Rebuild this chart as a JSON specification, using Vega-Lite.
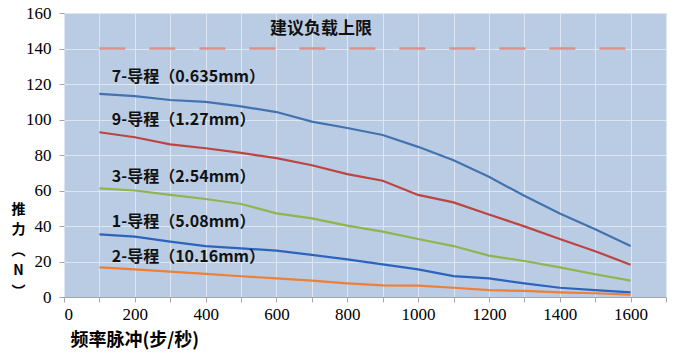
{
  "$schema": "https://vega.github.io/schema/vega-lite/v6.json",
  "width": 602,
  "height": 284,
  "autosize": {"type": "none"},
  "padding": {"left": 64, "top": 13, "right": 34, "bottom": 64},
  "background": "#ffffff",
  "config": {
    "view": {"fill": "#b9cce4", "stroke": null},
    "axis": {"gridColor": "#dde7f3", "gridWidth": 1}
  },
  "datasets": {
    "curves": [
      {"f": 100, "n": 114.4, "s": "7"}, {"f": 200, "n": 113.2, "s": "7"}, {"f": 300, "n": 111.0, "s": "7"}, {"f": 400, "n": 109.9, "s": "7"},
      {"f": 500, "n": 107.4, "s": "7"}, {"f": 600, "n": 104.2, "s": "7"}, {"f": 700, "n": 98.8, "s": "7"}, {"f": 800, "n": 95.2, "s": "7"},
      {"f": 900, "n": 91.3, "s": "7"}, {"f": 1000, "n": 84.6, "s": "7"}, {"f": 1100, "n": 77.1, "s": "7"}, {"f": 1200, "n": 67.7, "s": "7"},
      {"f": 1300, "n": 57.0, "s": "7"}, {"f": 1400, "n": 47.0, "s": "7"}, {"f": 1500, "n": 38.2, "s": "7"}, {"f": 1600, "n": 28.8, "s": "7"},
      {"f": 100, "n": 92.8, "s": "9"}, {"f": 200, "n": 90.0, "s": "9"}, {"f": 300, "n": 86.0, "s": "9"}, {"f": 400, "n": 83.8, "s": "9"},
      {"f": 500, "n": 81.2, "s": "9"}, {"f": 600, "n": 78.2, "s": "9"}, {"f": 700, "n": 74.2, "s": "9"}, {"f": 800, "n": 69.2, "s": "9"},
      {"f": 900, "n": 65.5, "s": "9"}, {"f": 1000, "n": 57.5, "s": "9"}, {"f": 1100, "n": 53.3, "s": "9"}, {"f": 1200, "n": 46.5, "s": "9"},
      {"f": 1300, "n": 39.8, "s": "9"}, {"f": 1400, "n": 32.7, "s": "9"}, {"f": 1500, "n": 25.8, "s": "9"}, {"f": 1600, "n": 18.2, "s": "9"},
      {"f": 100, "n": 61.2, "s": "3"}, {"f": 200, "n": 60.0, "s": "3"}, {"f": 300, "n": 57.5, "s": "3"}, {"f": 400, "n": 55.2, "s": "3"},
      {"f": 500, "n": 52.4, "s": "3"}, {"f": 600, "n": 47.1, "s": "3"}, {"f": 700, "n": 44.3, "s": "3"}, {"f": 800, "n": 40.2, "s": "3"},
      {"f": 900, "n": 36.8, "s": "3"}, {"f": 1000, "n": 32.7, "s": "3"}, {"f": 1100, "n": 28.7, "s": "3"}, {"f": 1200, "n": 23.3, "s": "3"},
      {"f": 1300, "n": 20.3, "s": "3"}, {"f": 1400, "n": 16.7, "s": "3"}, {"f": 1500, "n": 12.8, "s": "3"}, {"f": 1600, "n": 9.2, "s": "3"},
      {"f": 100, "n": 35.3, "s": "1"}, {"f": 200, "n": 34.0, "s": "1"}, {"f": 300, "n": 31.2, "s": "1"}, {"f": 400, "n": 28.7, "s": "1"},
      {"f": 500, "n": 27.4, "s": "1"}, {"f": 600, "n": 26.1, "s": "1"}, {"f": 700, "n": 23.7, "s": "1"}, {"f": 800, "n": 21.2, "s": "1"},
      {"f": 900, "n": 18.4, "s": "1"}, {"f": 1000, "n": 15.6, "s": "1"}, {"f": 1100, "n": 11.8, "s": "1"}, {"f": 1200, "n": 10.5, "s": "1"},
      {"f": 1300, "n": 7.7, "s": "1"}, {"f": 1400, "n": 5.2, "s": "1"}, {"f": 1500, "n": 3.9, "s": "1"}, {"f": 1600, "n": 2.6, "s": "1"},
      {"f": 100, "n": 16.7, "s": "2"}, {"f": 200, "n": 15.6, "s": "2"}, {"f": 300, "n": 14.3, "s": "2"}, {"f": 400, "n": 13.0, "s": "2"},
      {"f": 500, "n": 11.7, "s": "2"}, {"f": 600, "n": 10.5, "s": "2"}, {"f": 700, "n": 9.2, "s": "2"}, {"f": 800, "n": 7.7, "s": "2"},
      {"f": 900, "n": 6.6, "s": "2"}, {"f": 1000, "n": 6.4, "s": "2"}, {"f": 1100, "n": 5.2, "s": "2"}, {"f": 1200, "n": 3.9, "s": "2"},
      {"f": 1300, "n": 3.4, "s": "2"}, {"f": 1400, "n": 2.6, "s": "2"}, {"f": 1500, "n": 2.1, "s": "2"}, {"f": 1600, "n": 1.3, "s": "2"}
    ],
    "limit": [{"f": 100, "n": 140}, {"f": 1600, "n": 140}],
    "labels": [
      {"f": 135, "n": 124, "t": "7-导程（0.635mm）"},
      {"f": 135, "n": 99.7, "t": "9-导程（1.27mm）"},
      {"f": 135, "n": 67.8, "t": "3-导程（2.54mm）"},
      {"f": 135, "n": 42.4, "t": "1-导程（5.08mm）"},
      {"f": 135, "n": 22.7, "t": "2-导程（10.16mm）"}
    ],
    "note": [{"f": 726, "n": 151, "t": "建议负载上限"}]
  },
  "encoding": {
    "x": {
      "field": "f", "type": "quantitative",
      "scale": {"domain": [0, 1700], "nice": false},
      "axis": {
        "values": [0, 100, 200, 300, 400, 500, 600, 700, 800, 900, 1000, 1100, 1200, 1300, 1400, 1500, 1600, 1700],
        "labelExpr": "datum.value % 200 === 0 && datum.value < 1700 ? datum.label : ''",
        "format": "d",
        "labelFont": "Liberation Serif, Times New Roman, serif", "labelFontSize": 17, "labelColor": "#000000", "labelPadding": 4,
        "domainColor": "#a6a6a6", "tickColor": "#a6a6a6", "tickSize": 5,
        "gridColor": "#dde7f3",
        "title": "频率脉冲(步/秒)",
        "titleFont": "Noto Sans CJK SC", "titleFontSize": 18, "titleFontWeight": "bold", "titleColor": "#000000",
        "titleAnchor": "start", "titleAlign": "left", "titleBaseline": "middle", "titleX": 6, "titleY": 43
      }
    },
    "y": {
      "field": "n", "type": "quantitative",
      "scale": {"domain": [0, 160], "nice": false},
      "axis": {
        "values": [0, 20, 40, 60, 80, 100, 120, 140, 160],
        "labelFont": "Liberation Serif, Times New Roman, serif", "labelFontSize": 17, "labelColor": "#000000", "labelPadding": 8,
        "domain": false, "tickColor": "#a6a6a6", "tickSize": 5,
        "gridColor": "#dde7f3",
        "title": ["推", "力", "︵", "N", "︶"],
        "titleAngle": 0, "titleFont": "Noto Sans CJK SC", "titleFontSize": 14, "titleFontWeight": "bold", "titleColor": "#000000",
        "titleLineHeight": 20.5, "titleAlign": "center", "titleBaseline": "top", "titleX": -46, "titleY": 189
      }
    }
  },
  "layer": [
    {
      "data": {"name": "limit"},
      "mark": {"type": "line", "color": "#d9918c", "strokeWidth": 2.5, "strokeDash": [26, 24]}
    },
    {
      "data": {"name": "curves"},
      "mark": {"type": "line", "strokeWidth": 2.2},
      "encoding": {
        "color": {
          "field": "s", "type": "nominal",
          "scale": {"domain": ["7", "9", "3", "1", "2"], "range": ["#4372b0", "#bc4541", "#8fb54c", "#2d63bd", "#ee7f34"]},
          "legend": null
        }
      }
    },
    {
      "data": {"name": "labels"},
      "mark": {"type": "text", "align": "left", "baseline": "middle", "font": "Noto Sans CJK SC", "fontSize": 16, "fontWeight": "bold", "color": "#111111"},
      "encoding": {"text": {"field": "t"}}
    },
    {
      "data": {"name": "note"},
      "mark": {"type": "text", "align": "center", "baseline": "middle", "font": "Noto Sans CJK SC", "fontSize": 17, "fontWeight": "bold", "color": "#111111"},
      "encoding": {"text": {"field": "t"}}
    }
  ]
}
